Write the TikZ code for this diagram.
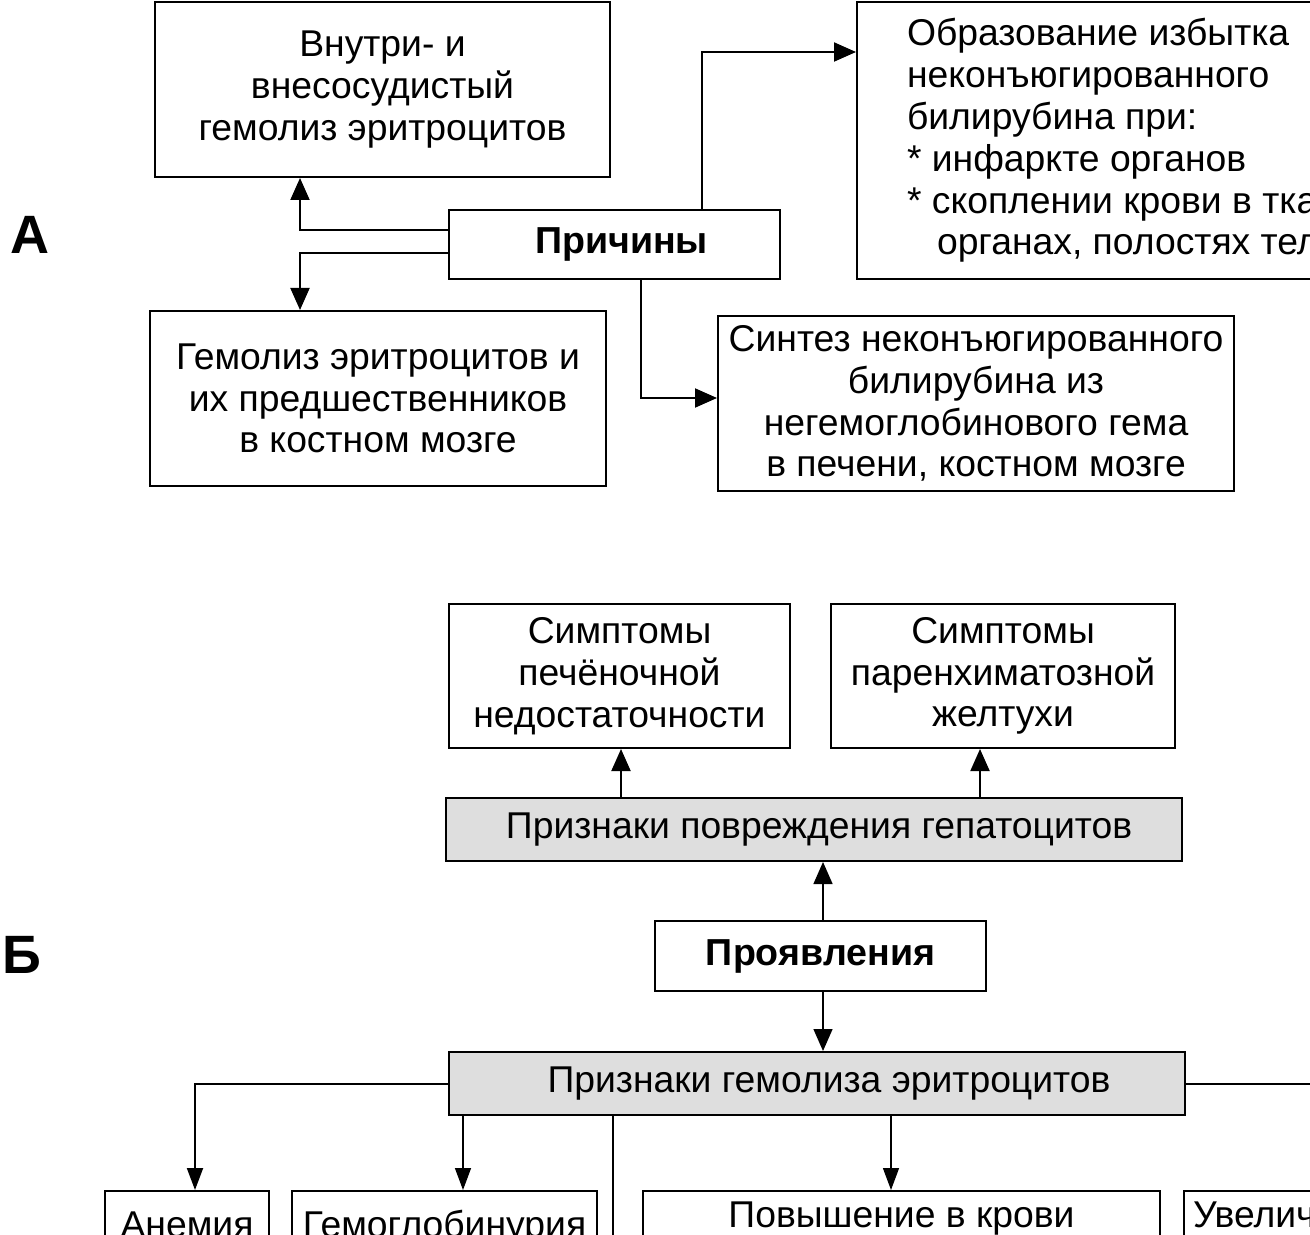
\documentclass[tikz,border=0pt]{standalone}
\usepackage{fontspec}
\setmainfont{Liberation Sans}
\usetikzlibrary{arrows.meta}

\tikzset{
  box/.style={draw,line width=1pt,align=center,inner sep=0pt,font=\fontsize{18.65}{20.9}\selectfont},
  boldbox/.style={box,font=\bfseries\fontsize{18.8}{21}\selectfont},
  greybox/.style={box,fill=black!13},
  conn/.style={line width=1pt},
  thin/.style={line width=0.7pt},
  part/.style={font=\bfseries\fontsize{27}{30}\selectfont}
}

\begin{document}
\begin{tikzpicture}[x=0.5pt,y=-0.5pt,>={Triangle[length=11pt,width=9.5pt]}]
\useasboundingbox (0,0) rectangle (1310,1235);
\clip (0,0) rectangle (1310,1235);

% A
\node[part] (partA) at (30,235) {А};
\node[box,minimum width=227.5pt,minimum height=87.5pt] (vnutri) at (382.5,89.5) {Внутри- и\\внесосудистый\\гемолиз эритроцитов};
\node[boldbox,minimum width=165.5pt,minimum height=34.5pt] (prich) at (614.5,244.5) {\hspace*{7pt}Причины};
\node[box,minimum height=138.5pt,anchor=west,align=left,inner xsep=25pt] (obraz) at (856,140.5)
  {Образование избытка\\неконъюгированного\\билирубина при:\\* инфаркте органов\\* скоплении крови в тканях,\\\hspace*{15pt}органах, полостях тела};
\node[box,minimum width=228pt,minimum height=87.5pt] (gemoliz) at (378,398.5) {Гемолиз эритроцитов и\\их предшественников\\в костном мозге};
\node[box,minimum width=258pt,minimum height=87.5pt] (sintez) at (976,403.5) {Синтез неконъюгированного\\билирубина из\\негемоглобинового гема\\в печени, костном мозге};

\draw[conn,->] ([yshift=7.25pt]prich.west) -| (vnutri.south -| 300,0);
\draw[conn,->] ([yshift=-4.25pt]prich.west) -| (gemoliz.north -| 300,0);
\draw[conn,->] (prich.north -| 702,0) |- (obraz.west |- 0,52);
\draw[conn,->] (prich.south -| 641,0) |- (sintez.west |- 0,398);

% B
\node[part] (partB) at (22,955) {Б};
\node[box,minimum width=170.5pt,minimum height=72pt] (symp1) at (619.5,676) {Симптомы\\печёночной\\недостаточности};
\node[box,minimum width=172pt,minimum height=72pt] (symp2) at (1003,676) {Симптомы\\паренхиматозной\\желтухи};
\node[greybox,minimum width=368pt,minimum height=31.5pt] (hepat) at (814,829.5) {\hspace*{5pt}Признаки повреждения гепатоцитов};
\node[boldbox,minimum width=165.5pt,minimum height=35pt] (proyav) at (820.5,956) {Проявления};
\node[greybox,minimum width=368pt,minimum height=31.5pt] (hemol) at (817,1083.5) {\hspace*{12pt}Признаки гемолиза эритроцитов};

\draw[conn,->] (hepat.north -| 621,0) -- (symp1.south -| 621,0);
\draw[conn,->] (hepat.north -| 980,0) -- (symp2.south -| 980,0);
\draw[thin,->] (proyav.north -| 823,0) -- (hepat.south -| 823,0);
\draw[thin,->] (proyav.south -| 823,0) -- (hemol.north -| 823,0);

\node[box,anchor=north,minimum width=82pt,text height=23pt,text depth=40pt] (anem) at (187,1190) {Анемия};
\node[box,anchor=north,minimum width=152.5pt,text height=23pt,text depth=40pt] (gemog) at (444.5,1190) {Гемоглобинурия};
\node[box,anchor=north,minimum width=258.5pt,text height=18pt,text depth=40pt] (povysh) at (901.5,1190) {Повышение в крови};
\node[box,anchor=north west,align=left,inner xsep=4.5pt,text height=18pt,text depth=40pt] (uvel) at (1183,1190) {Увеличение};
\coordinate (down) at (613,1300);
\coordinate (side) at (1400,1083.5);

\draw[conn,->,>={Triangle[length=11pt,width=8pt]}] (hemol.west) -| (anem.north -| 195,0);
\draw[thin,->,>={Triangle[length=11pt,width=8pt]}] (hemol.south -| 463,0) -- (gemog.north -| 463,0);
\draw[thin] (hemol.south -| 613,0) -- (down);
\draw[thin,->,>={Triangle[length=11pt,width=8pt]}] (hemol.south -| 891,0) -- (povysh.north -| 891,0);
\draw[conn] (hemol.east) -- (side);
\end{tikzpicture}
\end{document}
